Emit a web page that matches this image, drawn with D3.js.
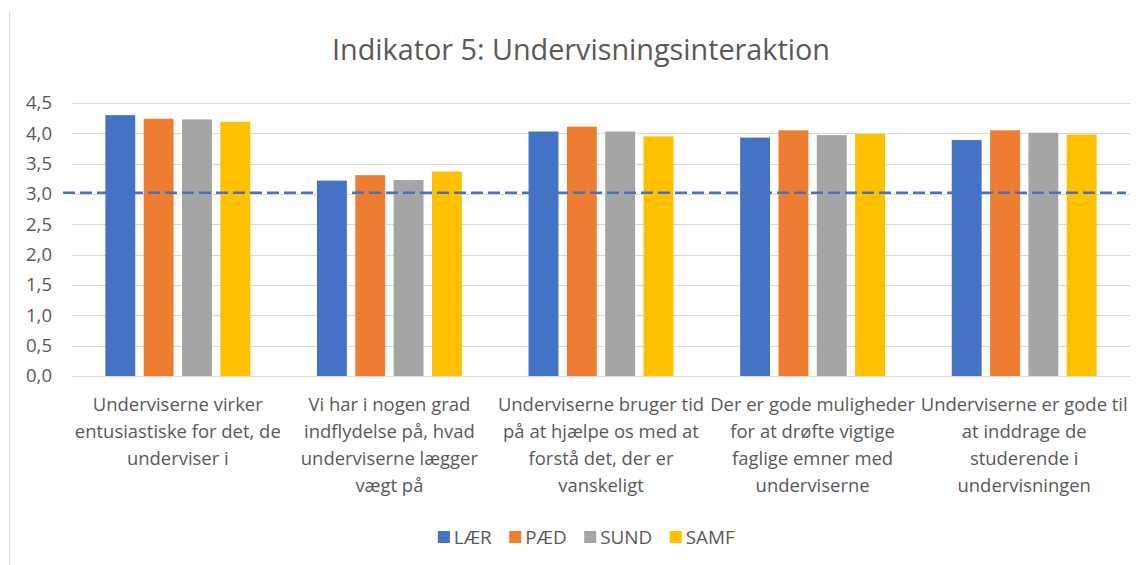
<!DOCTYPE html>
<html>
<head>
<meta charset="utf-8">
<script src="https://cdn.jsdelivr.net/npm/d3@7"></script>
<style>
  html, body { margin: 0; padding: 0; background: #fff; }
  svg { display: block; }
  text { font-family: "Open Sans", "Noto Sans", sans-serif; fill: #595959; }
</style>
</head>
<body>
<svg id="chart" width="1142" height="565"></svg>
<script>
// Chart data
const title = "Indikator 5: Undervisningsinteraktion";
const categories = [
  ["Underviserne virker", "entusiastiske for det, de", "underviser i"],
  ["Vi har i nogen grad", "indflydelse på, hvad", "underviserne lægger", "vægt på"],
  ["Underviserne bruger tid", "på at hjælpe os med at", "forstå det, der er", "vanskeligt"],
  ["Der er gode muligheder", "for at drøfte vigtige", "faglige emner med", "underviserne"],
  ["Underviserne er gode til", "at inddrage de", "studerende i", "undervisningen"]
];
const seriesNames = ["LÆR", "PÆD", "SUND", "SAMF"];
const laer = [4.30, 3.22, 4.03, 3.93, 3.89];
const paed = [4.24, 3.31, 4.11, 4.05, 4.05];
const sund = [4.23, 3.23, 4.03, 3.97, 4.01];
const samf = [4.19, 3.37, 3.95, 3.99, 3.98];
const referenceValue = 3.02;
const yTicks = [0, 0.5, 1, 1.5, 2, 2.5, 3, 3.5, 4, 4.5];
const yTickLabels = ["0,0", "0,5", "1,0", "1,5", "2,0", "2,5", "3,0", "3,5", "4,0", "4,5"];

const seriesValues = [laer, paed, sund, samf];
const colors = ["#4472C4", "#ED7D31", "#A5A5A5", "#FFC000"];

const svg = d3.select("#chart");

// Outer frame edge on the left
svg.append("line")
  .attr("x1", 9.5).attr("x2", 9.5).attr("y1", 12).attr("y2", 565)
  .attr("stroke", "#d9d9d9").attr("stroke-width", 1);

// Font sizing helper: pick a size so a sample string spans a given width
function fitSize(sample, targetWidth) {
  const t = svg.append("text").attr("font-size", 100).text(sample);
  const w = t.node().getComputedTextLength();
  t.remove();
  return 100 * targetWidth / w;
}
const swatch = 12, swatchGap = 4, itemGap = 17.5;
const titleSize = fitSize(title, 498);
const catSize = fitSize("Underviserne virker", 170);
const legendSize = fitSize(seriesNames.join(""), 297 - seriesNames.length * (swatch + swatchGap) - (seriesNames.length - 1) * itemGap);
const tickSize = fitSize("4,5", 26);

// Scales
const plot = { left: 72, right: 1130, top: 103, bottom: 376 };
const y = d3.scaleLinear().domain([0, 4.5]).range([plot.bottom, plot.top]);
const x0 = d3.scaleBand().domain(d3.range(categories.length)).range([plot.left, plot.right]);
const x1 = d3.scaleBand().domain(d3.range(seriesNames.length))
  .range([0, x0.bandwidth()]).paddingInner(0.22).paddingOuter(0.87);

// Gridlines
svg.append("g").selectAll("line").data(yTicks).join("line")
  .attr("x1", plot.left).attr("x2", plot.right)
  .attr("y1", d => Math.round(y(d)) + 0.5).attr("y2", d => Math.round(y(d)) + 0.5)
  .attr("stroke", "#d9d9d9").attr("stroke-width", 1);

// Y axis labels
const yAxis = d3.axisLeft(y).tickValues(yTicks)
  .tickFormat((d, i) => yTickLabels[i]).tickSize(0).tickPadding(0);
const yg = svg.append("g").attr("transform", "translate(52,0)").call(yAxis);
yg.select(".domain").remove();
yg.selectAll("text").attr("font-size", tickSize).attr("fill", "#595959")
  .style("font-family", "'Open Sans', sans-serif");

// Bars
const groups = svg.append("g").selectAll("g").data(categories).join("g")
  .attr("transform", (d, i) => `translate(${x0(i)},0)`);
groups.selectAll("rect")
  .data((d, i) => seriesValues.map((vals, s) => ({ s, v: vals[i] })))
  .join("rect")
  .attr("x", d => x1(d.s))
  .attr("width", x1.bandwidth())
  .attr("y", d => y(d.v))
  .attr("height", d => y(0) - y(d.v))
  .attr("fill", d => colors[d.s]);

// Reference line
svg.append("line")
  .attr("x1", 63).attr("x2", 1126)
  .attr("y1", y(referenceValue)).attr("y2", y(referenceValue))
  .attr("stroke", "#4472C4").attr("stroke-width", 2.5)
  .attr("stroke-dasharray", "12,5");

// Category labels
const lineHeight = 27;
const catLabels = svg.append("g").selectAll("text").data(categories).join("text")
  .attr("text-anchor", "middle")
  .attr("font-size", catSize)
  .attr("x", (d, i) => x0(i) + x0.bandwidth() / 2)
  .attr("y", 405);
catLabels.selectAll("tspan").data(d => d).join("tspan")
  .attr("x", function () { return this.parentNode.getAttribute("x"); })
  .attr("y", (d, j) => 405 + j * lineHeight)
  .attr("dy", "0.35em")
  .text(d => d);

// Title
svg.append("text")
  .attr("x", 581).attr("y", 59.5)
  .attr("text-anchor", "middle")
  .attr("font-size", titleSize)
  .text(title);

// Legend
const legend = svg.append("g");
let lx = 0;
seriesNames.forEach((name, i) => {
  const item = legend.append("g").attr("transform", `translate(${lx},0)`);
  item.append("rect").attr("x", 0).attr("y", -6).attr("width", swatch).attr("height", swatch)
    .attr("fill", colors[i]);
  const t = item.append("text").attr("x", swatch + swatchGap).attr("y", 0).attr("dy", "0.35em")
    .attr("font-size", legendSize).text(name);
  lx += swatch + swatchGap + t.node().getComputedTextLength() + itemGap;
});
const legendWidth = lx - itemGap;
legend.attr("transform", `translate(${586.3 - legendWidth / 2},537)`);
</script>
</body>
</html>
